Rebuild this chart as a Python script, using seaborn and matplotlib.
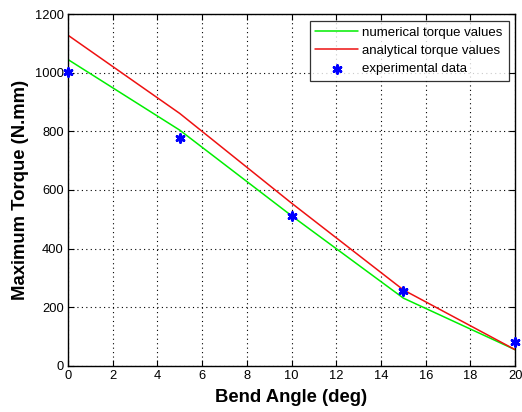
import numpy as np
import pandas as pd
import matplotlib
matplotlib.use("Agg")
import matplotlib.pyplot as plt
import seaborn as sns

# values
angle = [0, 5, 10, 15, 20]
numerical = [1045, 804, 512, 231, 55]
analytical = [1128, 861, 555, 259, 55]
experimental = [1003, 776, 512, 257, 81]

df = pd.DataFrame({"angle": angle, "numerical": numerical,
                   "analytical": analytical, "experimental": experimental})

sns.set_style("white")
plt.rcParams['font.family'] = ['Liberation Sans', 'DejaVu Sans']
plt.rcParams['text.color'] = 'black'
plt.rcParams['axes.labelcolor'] = 'black'
plt.rcParams['xtick.color'] = 'black'
plt.rcParams['ytick.color'] = 'black'

fig, ax = plt.subplots(figsize=(5.22, 4.12), dpi=100)
fig.subplots_adjust(left=0.13, right=0.987, top=0.966, bottom=0.112)

sns.lineplot(data=df, x="angle", y="numerical", color="#00ee00", lw=1.1,
             label="numerical torque values", ax=ax)
sns.lineplot(data=df, x="angle", y="analytical", color="#ee1111", lw=1.1,
             label="analytical torque values", ax=ax)
sns.scatterplot(data=df, x="angle", y="experimental", color="#0000ff",
                marker=(6, 2, 0), s=32, edgecolor="#0000ff", linewidth=2.0,
                label="experimental data", ax=ax, zorder=5, clip_on=False)

ax.set_xlim(0, 20)
ax.set_ylim(0, 1200)
ax.set_xticks(np.arange(0, 21, 2))
ax.set_yticks(np.arange(0, 1201, 200))
ax.grid(True, linestyle=(0, (1, 3)), color="black", linewidth=0.8)
ax.tick_params(direction="in", length=4, labelsize=9.3, top=True, right=True,
               bottom=True, left=True, color="black", pad=3)
for s in ax.spines.values():
    s.set_color("black")
    s.set_linewidth(1.0)

ax.set_xlabel("Bend Angle (deg)", fontsize=13.3, fontweight="bold", labelpad=5)
ax.set_ylabel("Maximum Torque (N.mm)", fontsize=13.3, fontweight="bold", labelpad=4)

leg = ax.legend(loc="upper right", fontsize=9.5, frameon=True, fancybox=False,
                edgecolor="black", borderaxespad=0.5, handlelength=3.2,
                handletextpad=0.35, labelspacing=0.45, borderpad=0.45)
leg.get_frame().set_linewidth(0.9)

fig.savefig("out.png", dpi=100)
